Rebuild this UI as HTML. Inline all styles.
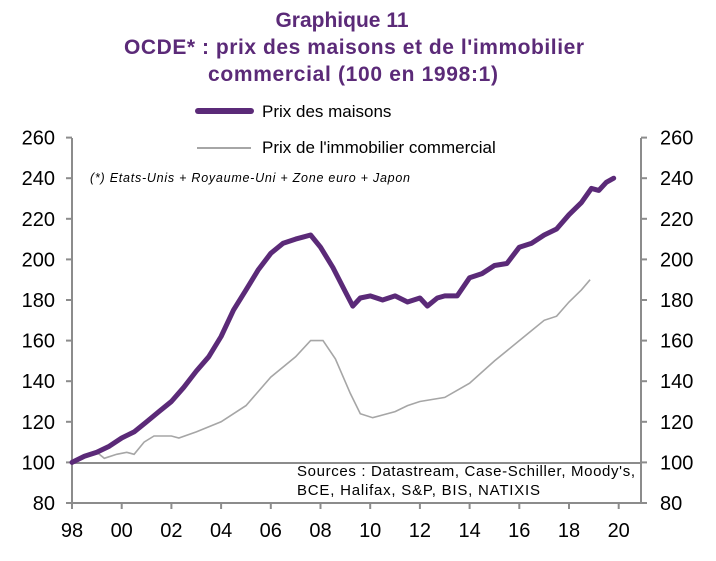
<!DOCTYPE html>
<html><head><meta charset="utf-8"><style>
body{margin:0;background:#fff;}
svg text{font-family:"Liberation Sans",Arial,sans-serif;}
</style></head><body>
<svg id="s" width="716" height="556" xmlns="http://www.w3.org/2000/svg">
<g fill="#5b2a78" font-weight="bold" font-size="21" text-anchor="middle">
<text x="342" y="27">Graphique 11</text>
<text x="354" y="54" textLength="460" lengthAdjust="spacing">OCDE*  : prix des maisons et de l'immobilier</text>
<text x="353" y="81" textLength="290" lengthAdjust="spacing">commercial (100 en 1998:1)</text>
</g>
<line x1="198" y1="111" x2="251" y2="111" stroke="#5b2a78" stroke-width="6" stroke-linecap="round"/>
<text x="262" y="117" font-size="17">Prix des maisons</text>
<line x1="197" y1="148" x2="251" y2="148" stroke="#a6a6a6" stroke-width="2"/>
<text x="262" y="153" font-size="17">Prix de l'immobilier commercial</text>
<text x="90" y="182" font-size="12.5" font-style="italic" textLength="320" lengthAdjust="spacing">(*) Etats-Unis + Royaume-Uni + Zone euro + Japon</text>
<g stroke="#8c8c8c" stroke-width="2" fill="none" id="ax">
<line x1="72" y1="138" x2="72" y2="504"/>
<line x1="641" y1="138" x2="641" y2="504"/>
<line x1="72" y1="503" x2="641" y2="503"/>
<line x1="72" y1="463" x2="641" y2="463"/>
</g>
<g id="lab" font-size="20"></g>
<text x="297" y="476" font-size="15" textLength="338" lengthAdjust="spacing">Sources  : Datastream,  Case-Schiller, Moody's,</text>
<text x="297" y="495" font-size="15" textLength="243" lengthAdjust="spacing">BCE, Halifax, S&amp;P, BIS,  NATIXIS</text>
<polyline id="g" fill="none" stroke="#a6a6a6" stroke-width="1.6"/>
<polyline id="p" fill="none" stroke="#5b2a78" stroke-width="5" stroke-linejoin="round" stroke-linecap="round"/>
</svg>
<script>
function X(t){return 72+(t-1998)*24.85}
function Y(v){return 503-(v-80)*2.03}
var ns="http://www.w3.org/2000/svg",ax=document.getElementById('ax'),lab=document.getElementById('lab');
function el(p,n,a,t){var e=document.createElementNS(ns,n);for(var k in a)e.setAttribute(k,a[k]);if(t)e.textContent=t;p.appendChild(e);}
for(var v=80;v<=260;v+=20){var y=Y(v);
el(ax,'line',{x1:66,y1:y,x2:72,y2:y});el(ax,'line',{x1:641,y1:y,x2:647,y2:y});
el(lab,'text',{x:55,y:y+7,'text-anchor':'end'},v);el(lab,'text',{x:660,y:y+7},v);}
for(var yr=1998;yr<=2020;yr+=2){var x=X(yr);el(ax,'line',{x1:x,y1:503,x2:x,y2:509});
el(lab,'text',{x:x,y:537,'text-anchor':'middle'},String(yr%100).padStart(2,'0'));}
var P=[[1998,100],[1998.5,103],[1999,105],[1999.5,108],[2000,112],[2000.5,115],[2001,120],[2001.5,125],[2002,130],[2002.5,137],[2003,145],[2003.5,152],[2004,162],[2004.5,175],[2005,185],[2005.5,195],[2006,203],[2006.5,208],[2007,210],[2007.3,211],[2007.6,212],[2008,206],[2008.5,196],[2009,184],[2009.3,177],[2009.6,181],[2010,182],[2010.5,180],[2011,182],[2011.5,179],[2012,181],[2012.3,177],[2012.7,181],[2013,182],[2013.5,182],[2014,191],[2014.5,193],[2015,197],[2015.5,198],[2016,206],[2016.5,208],[2017,212],[2017.5,215],[2018,222],[2018.5,228],[2018.9,235],[2019.2,234],[2019.5,238],[2019.8,240]];
var G=[[1998,100],[1998.5,103],[1999,105],[1999.3,102],[1999.8,104],[2000.2,105],[2000.5,104],[2000.9,110],[2001.3,113],[2002,113],[2002.3,112],[2003,115],[2004,120],[2005,128],[2006,142],[2007,152],[2007.6,160],[2008.1,160],[2008.6,151],[2009.2,134],[2009.6,124],[2010.1,122],[2011,125],[2011.5,128],[2012,130],[2013,132],[2014,139],[2015,150],[2016,160],[2016.5,165],[2017,170],[2017.5,172],[2018,179],[2018.5,185],[2018.85,190]];
function pts(a){return a.map(function(d){return X(d[0]).toFixed(1)+','+Y(d[1]).toFixed(1)}).join(' ')}
document.getElementById('p').setAttribute('points',pts(P));
document.getElementById('g').setAttribute('points',pts(G));
</script>
</body></html>
